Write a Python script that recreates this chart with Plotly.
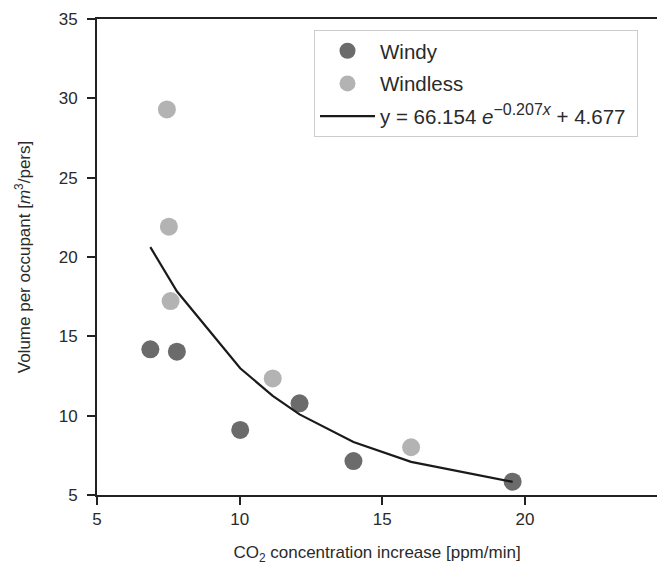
import plotly.graph_objects as go

# Data
windy_x = [6.87, 7.80, 10.02, 12.10, 13.99, 19.57]
windy_y = [14.18, 14.03, 9.10, 10.78, 7.14, 5.84]
windless_x = [7.45, 7.52, 7.58, 11.16, 16.01]
windless_y = [29.30, 21.91, 17.22, 12.35, 8.01]
fit_x = [6.87, 7.45, 7.52, 7.58, 7.80, 10.02, 11.16, 12.10, 13.99, 16.01, 19.57]
fit_y = [20.62, 18.83, 18.63, 18.46, 17.84, 12.99, 11.25, 10.08, 8.34, 7.09, 5.83]
x_ticks = [5, 10, 15, 20]
y_ticks = [5, 10, 15, 20, 25, 30, 35]

FONT = "Liberation Sans, Arial, sans-serif"
TXT = "#2a2a2a"

fit_label = ("y = 66.154 <i>e</i><sup><span style='font-size:16px'>"
             "\u22120.207<i>x</i></span></sup> + 4.677&nbsp;")

fig = go.Figure()
fig.add_trace(go.Scatter(x=windy_x, y=windy_y, mode="markers", name="Windy",
                         legendgroup="a",
                         marker=dict(size=18, color="#6b6b6b", line=dict(width=0))))
fig.add_trace(go.Scatter(x=windless_x, y=windless_y, mode="markers", name="Windless",
                         legendgroup="b",
                         marker=dict(size=18, color="#b3b3b3", line=dict(width=0))))
fig.add_trace(go.Scatter(x=fit_x, y=fit_y, mode="lines", legendgroup="c",
                         name=fit_label,
                         line=dict(color="#1a1a1a", width=2.2)))

fig.update_layout(
    width=657, height=569,
    margin=dict(l=97, r=0, t=19, b=74),
    paper_bgcolor="white", plot_bgcolor="white",
    font=dict(family=FONT, size=17, color=TXT),
    legend=dict(x=0.3875, y=0.977, xanchor="left", yanchor="top",
                bordercolor="#cccccc", borderwidth=1, bgcolor="white",
                font=dict(size=20.5, color=TXT), tracegroupgap=3,
                itemwidth=55),
    showlegend=True,
)
fig.update_xaxes(range=[5, 24.63], tickvals=x_ticks, ticks="outside", ticklen=8,
                 tickwidth=1.8, tickcolor="#222", showline=True, linecolor="#222",
                 linewidth=1.8, mirror=True, showgrid=False, zeroline=False,
                 tickfont=dict(size=17, color=TXT),
                 title=dict(text="CO<sub>2</sub> concentration increase [ppm/min]",
                            font=dict(size=17, color=TXT), standoff=18))
fig.update_yaxes(range=[5, 35], tickvals=y_ticks, ticks="outside", ticklen=8,
                 tickwidth=1.8, tickcolor="#222", showline=True, linecolor="#222",
                 linewidth=1.8, mirror=False, showgrid=False, zeroline=False,
                 tickfont=dict(size=17, color=TXT), ticklabelstandoff=6,
                 title=dict(text="Volume per occupant [<i>m</i><sup>3</sup>/pers]",
                            font=dict(size=17, color=TXT), standoff=24))

fig.write_html("out.html", config={"displayModeBar": False},
               post_script="document.body.style.margin='0';")
